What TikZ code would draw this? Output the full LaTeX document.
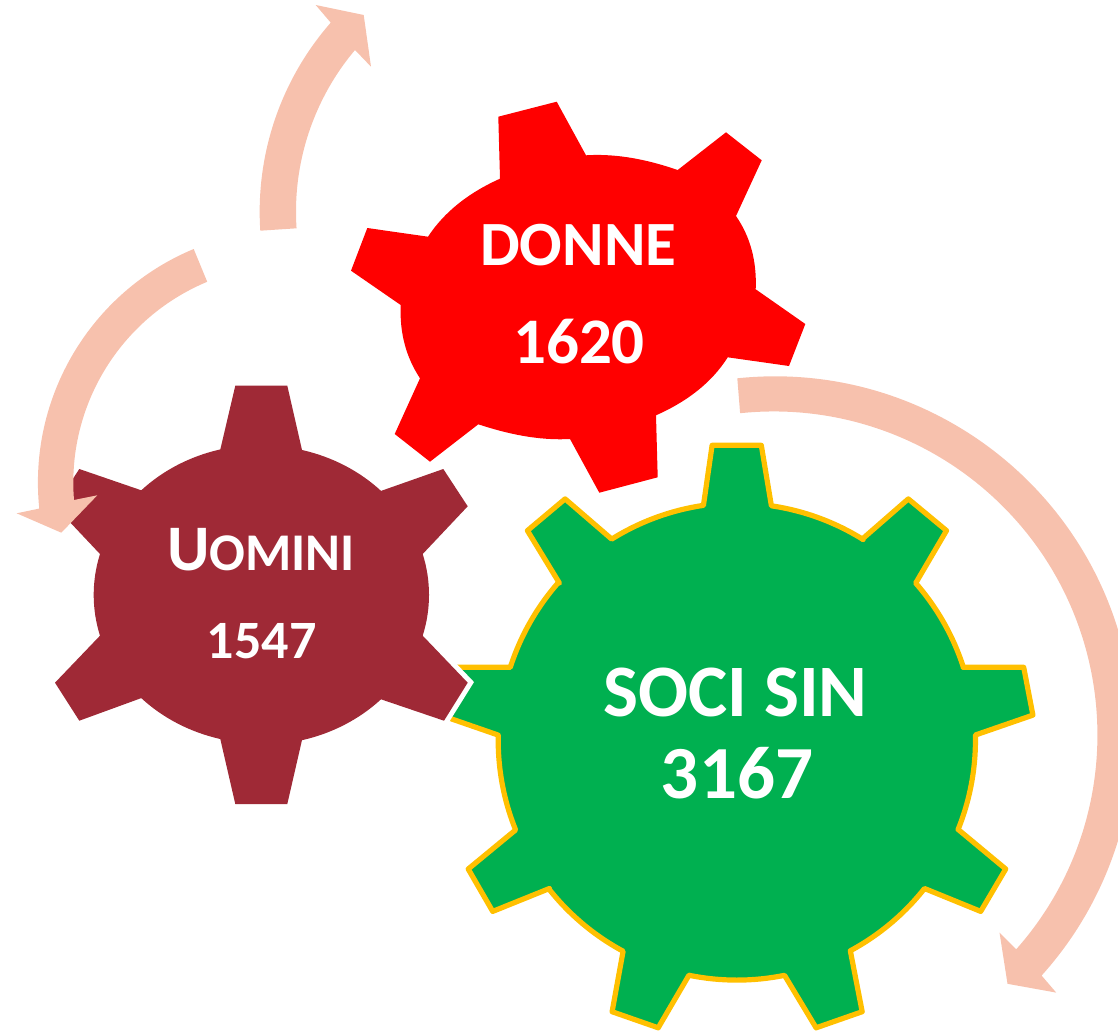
\documentclass[tikz,border=0pt]{standalone}
\usepackage{fontspec}
\setmainfont{Carlito}
\definecolor{gearmaroon}{HTML}{9F2936}
\definecolor{gearred}{HTML}{FF0000}
\definecolor{geargreen}{HTML}{00B050}
\definecolor{gearedge}{HTML}{FFC000}
\definecolor{arrowpale}{HTML}{F7C1AD}
\tikzset{
  maroongear/.style={fill=gearmaroon,preaction={draw=white,line width=10pt,line join=miter}},
  redgear/.style={fill=gearred},
  greengear/.style={fill=geargreen,draw=gearedge,line width=5.2pt,line join=round},
  cyclearrow/.style={fill=arrowpale},
  geartext/.style={text=white,font=\bfseries,inner sep=0pt,anchor=base},
}
\begin{document}
\begin{tikzpicture}[x=1pt,y=1pt,yscale=-1]
\useasboundingbox (0,0) rectangle (1118,1030);
\clip (0,0) rectangle (1118,1030);
% green gear
\draw[greengear] (712.1,445.3) -- (761.3,445.3) -- (771.4,505.8)
  arc[start angle=-81.6,end angle=-58,radius=239] -- (862.2,539.1) -- (908.3,498.9) -- (946.5,530.6) -- (915.7,583.1)
  arc[start angle=-41.2,end angle=-17.8,radius=239] -- (963.1,667.3) -- (1023.7,667.3) -- (1032.9,715.1) -- (975.4,735)
  arc[start angle=-1.2,end angle=22,radius=239] -- (958.7,829.9) -- (1005.7,869) -- (980.7,911.4) -- (924.5,888.5)
  arc[start angle=38.3,end angle=61.7,radius=239] -- (850.4,951.2) -- (862.2,1011.7) -- (816.1,1027.8) -- (784.5,975.3)
  arc[start angle=78.5,end angle=101.5,radius=239] -- (688.9,975.3) -- (658.2,1027.8) -- (612.1,1011.7) -- (623.1,951.2)
  arc[start angle=118.3,end angle=141.7,radius=239] -- (549.4,888.5) -- (492.7,911.4) -- (468.2,869) -- (515.6,829.9)
  arc[start angle=158,end angle=181.2,radius=239] -- (498,735) -- (440.5,715.1) -- (449.7,667.3) -- (510.3,667.3)
  arc[start angle=197.8,end angle=221.2,radius=239] -- (559.4,583.1) -- (527.4,530.6) -- (565.1,498.9) -- (611.7,539.1)
  arc[start angle=238,end angle=261.6,radius=239] -- cycle;
% maroon gear
\fill[maroongear] (235.3,385.7) -- (287.3,385.7) -- (302,450)
  arc[start angle=-75.9,end angle=-44.2,x radius=167,y radius=150] -- (443.3,469) -- (467.7,506.3) -- (422.7,554)
  arc[start angle=-15.8,end angle=15.8,x radius=167,y radius=150] -- (467.7,682.7) -- (444,720.7) -- (381,699.3)
  arc[start angle=44.2,end angle=75.9,x radius=167,y radius=150] -- (287.3,804) -- (235.3,804) -- (220.3,739)
  arc[start angle=104.1,end angle=135.8,x radius=167,y radius=150] -- (79.3,720.7) -- (55,682.7) -- (100,635.7)
  arc[start angle=164.2,end angle=195.8,x radius=167,y radius=150] -- (55,506.3) -- (79.3,469) -- (141.3,490.3)
  arc[start angle=224.2,end angle=255.9,x radius=167,y radius=150] -- cycle;
% red gear
\fill[redgear] (556.7,101.7) -- (586,155.3)
  .. controls (618.5,153.3) and (649.1,160.2) .. (677.7,170) -- (726,132.3) -- (761.7,160.3) -- (736,216)
  .. controls (750.4,236.9) and (756.9,261.3) .. (755.7,289.3) -- (805.3,324) -- (789,366) -- (727.7,357.3)
  .. controls (712.4,381.6) and (688.5,400.9) .. (656,415.3) -- (657.7,477.3) -- (599.3,492.7) -- (570,439)
  .. controls (537.9,440.7) and (507.3,433.8) .. (478.3,424.3) -- (430,461.7) -- (394.7,434) -- (420,378.3)
  .. controls (406,357.1) and (399.5,332.7) .. (400.7,305) -- (351,270.7) -- (367.3,228) -- (428,236.7)
  .. controls (444,212.4) and (467.9,193.1) .. (500,178.7) -- (498.3,116.7) -- cycle;
% arrows
\fill[cyclearrow] (260.3,230.7) arc[start angle=176.2,end angle=221.2,radius=287]
  -- (315.7,5) -- (363.7,15) -- (371,66.7) -- (355,50)
  arc[start angle=220.1,end angle=176.2,radius=251] -- cycle;
\fill[cyclearrow] (193.7,249) arc[start angle=247.4,end angle=174.1,radius=253]
  -- (16.7,513.3) -- (61.3,532.7) -- (97.3,495.3) -- (74,500)
  arc[start angle=175.4,end angle=247.4,radius=217.5] -- cycle;
\fill[cyclearrow] (737.3,378.3) arc[start angle=-96,end angle=42,radius=359]
  -- (1056.2,992.6) -- (1007.5,983.8) -- (999.5,932.5) -- (1016.2,949.3)
  arc[start angle=41.5,end angle=-96,radius=323.5] -- cycle;
% texts
\node[geartext,font=\bfseries\fontsize{63}{63}\selectfont] (donne) at (578.3,265.7) {DONNE};
\node[geartext,font=\bfseries\fontsize{65}{65}\selectfont] (donnen) at (579,363.3) {1620};
\node[geartext] (uomini) at (261,570) {{\fontsize{65}{65}\selectfont U}{\fontsize{53}{53}\selectfont OMINI}};
\node[geartext,font=\bfseries\fontsize{54}{54}\selectfont] (uominin) at (261.7,658) {1547};
\node[geartext,font=\bfseries\fontsize{74}{74}\selectfont] (soci) at (735.5,716) {SOCI SIN};
\node[geartext,font=\bfseries\fontsize{75}{75}\selectfont] (socin) at (737,798.5) {3167};
\end{tikzpicture}
\end{document}
